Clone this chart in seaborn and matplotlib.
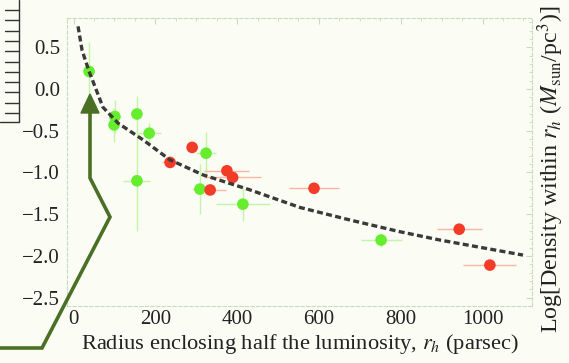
import numpy as np
import pandas as pd
import matplotlib
matplotlib.use("Agg")
import matplotlib.pyplot as plt
from matplotlib.lines import Line2D
from matplotlib.patches import Polygon
from matplotlib.ticker import MultipleLocator
import seaborn as sns

# Green sample: half-light radius (pc), log density, and their uncertainties
green_r = [38, 101, 99, 155, 155, 185, 324, 309, 414, 752]
green_logrho = [0.21, -0.33, -0.43, -0.30, -1.10, -0.53, -0.77, -1.20, -1.38, -1.81]
green_rerr = [5, 15, 15, 10, 33, 28, 25, 20, 66, 50]
green_rhoerr = [0.35, 0.20, 0.20, 0.22, 0.60, 0.12, 0.25, 0.30, 0.20, 0.08]

# Red sample
red_r = [236, 290, 375, 389, 334, 588, 943, 1018]
red_logrho = [-0.88, -0.70, -0.98, -1.06, -1.21, -1.19, -1.68, -2.11]
red_rerr = [20, 10, 55, 70, 40, 60, 55, 65]
red_rhoerr = [0.03, 0.03, 0.03, 0.03, 0.03, 0.03, 0.03, 0.03]

# Fitted relation
fit_r = [11, 21, 38, 72, 109, 170, 236, 317, 432, 554, 676, 798, 896, 1099]
fit_logrho = [0.75, 0.46, 0.21, -0.22, -0.41, -0.61, -0.85, -1.03, -1.21,
              -1.42, -1.57, -1.71, -1.81, -1.99]

xticks = [0, 200, 400, 600, 800, 1000]
yticks = [0.5, 0.0, -0.5, -1.0, -1.5, -2.0, -2.5]

sns.set_theme(style="white")
plt.rcParams["font.family"] = ["Liberation Serif", "DejaVu Serif"]
plt.rcParams["mathtext.fontset"] = "stix"

BG = "#fbfcf4"
W, H = 569, 363
fig = plt.figure(figsize=(W / 100, H / 100), dpi=100, facecolor=BG)
ax = fig.add_axes([67 / W, 1 - 306 / H, (532 - 67) / W, (306 - 18) / H])
ax.set_facecolor(BG)

green = pd.DataFrame({"r": green_r, "logrho": green_logrho,
                      "rerr": green_rerr, "rhoerr": green_rhoerr})
red = pd.DataFrame({"r": red_r, "logrho": red_logrho,
                    "rerr": red_rerr, "rhoerr": red_rhoerr})
fit = pd.DataFrame({"r": fit_r, "logrho": fit_logrho})

ax.errorbar(green["r"], green["logrho"], xerr=green["rerr"], yerr=green["rhoerr"],
            fmt="none", ecolor="#c2f5a6", elinewidth=1.0, capsize=0, zorder=2)
ax.errorbar(red["r"], red["logrho"], xerr=red["rerr"], yerr=red["rhoerr"],
            fmt="none", ecolor="#f8b6a2", elinewidth=1.0, capsize=0, zorder=2)

sns.lineplot(data=fit, x="r", y="logrho", ax=ax, sort=False, color="#3a3a3a",
             lw=2.4, zorder=4, dashes=False)
ax.lines[-1].set_dashes([1.8, 1.0])

sns.scatterplot(data=green, x="r", y="logrho", ax=ax, color="#66ee2e", s=70,
                edgecolor="none", zorder=3)
sns.scatterplot(data=red, x="r", y="logrho", ax=ax, color="#f23c28", s=70,
                edgecolor="none", zorder=3)

ax.set_xlim(-16, 1121)
ax.set_ylim(-2.60, 0.85)
ax.set_xticks(xticks)
ax.set_yticks(yticks)
ax.set_yticklabels([f"{v:.1f}".replace("-", "\u2212") for v in yticks])
ax.xaxis.set_minor_locator(MultipleLocator(50))
ax.yaxis.set_minor_locator(MultipleLocator(0.1))

frame = "#c9dcc0"
for s in ax.spines.values():
    s.set_color(frame)
    s.set_linewidth(0.8)
    s.set_linestyle((0, (3, 2)))
ax.tick_params(which="both", direction="in", color=frame, top=True, right=True,
               labelsize=15, labelcolor="#222222")
ax.tick_params(which="major", length=4, width=0.8)
ax.tick_params(which="minor", length=2, width=0.6)
ax.tick_params(axis="x", pad=3)
ax.tick_params(axis="y", pad=5)

ax.set_xlabel("Radius enclosing half the luminosity, $r_h$ (parsec)",
              fontsize=16.2, color="#222222", labelpad=2)
ax.set_ylabel("")
ax.text(1.041, 0.476, r"Log[Density within $r_h$ ($M_{\rm sun}$/pc$^3$)]",
        transform=ax.transAxes, rotation=90, ha="center", va="center",
        fontsize=17.3, color="#222222")


def fx(px):
    return px / W


def fy(py):
    return 1 - py / H


# Dark green pointer rising from the lower left toward the smallest system
arrow_col = "#4a7025"
path_x = [0, 42, 110, 90, 90]
path_y = [348, 348, 217, 178, 110]
fig.add_artist(Line2D([fx(v) for v in path_x], [fy(v) for v in path_y],
                      color=arrow_col, lw=2.6, solid_joinstyle="miter",
                      transform=fig.transFigure, zorder=10))
fig.add_artist(Polygon([[fx(81), fy(113)], [fx(99), fy(113)], [fx(90), fy(94)]],
                       closed=True, color=arrow_col, transform=fig.transFigure,
                       zorder=10))

# Neighbouring panel frame peeking in at the top left
fig.add_artist(Line2D([fx(19), fx(19), fx(0)], [fy(0), fy(122), fy(122)],
                      color="#333333", lw=1.0, transform=fig.transFigure))
for ty in np.arange(10, 122, 10.3):
    fig.add_artist(Line2D([fx(5), fx(19)], [fy(ty), fy(ty)], color="#333333",
                          lw=1.0, transform=fig.transFigure))

fig.savefig("out.png", dpi=100, facecolor=BG)
